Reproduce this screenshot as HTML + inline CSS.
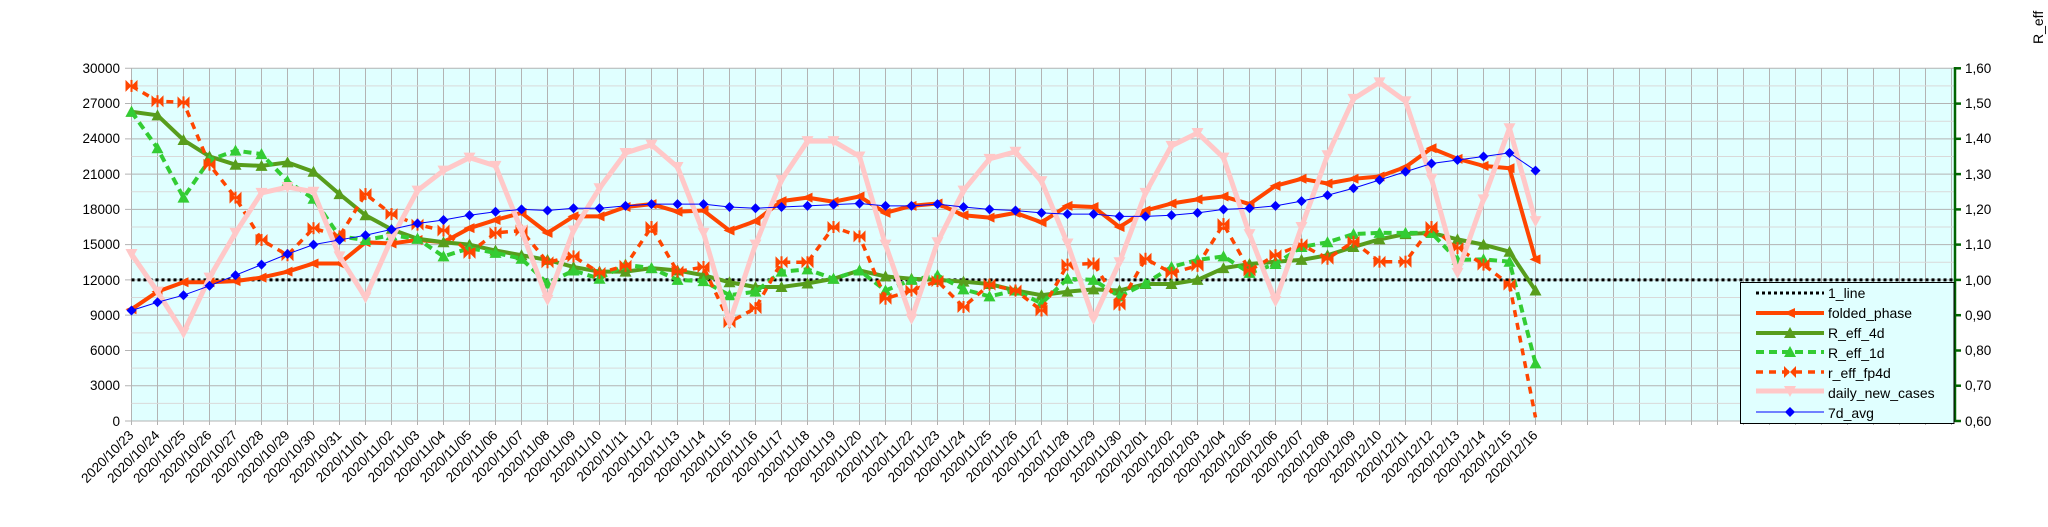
<!DOCTYPE html>
<html><head><meta charset="utf-8"><style>
html,body{margin:0;padding:0;background:#fff;}
svg{display:block;font-family:"Liberation Sans",sans-serif;}
</style></head><body>
<svg width="2048" height="527" viewBox="0 0 2048 527" xmlns="http://www.w3.org/2000/svg">
<defs>
<pattern id="vg" x="131" y="0" width="26" height="527" patternUnits="userSpaceOnUse"><rect x="0" y="0" width="1" height="527" fill="#b3b3b3"/></pattern>
<marker id="mf" markerUnits="userSpaceOnUse" markerWidth="0.4615" markerHeight="1.0207" viewBox="-6 -6 12 12" preserveAspectRatio="none" refX="0" refY="0" overflow="visible"><polygon points="-6,0 5,-5 5,5" fill="#ff4500"/></marker>
<marker id="m4" markerUnits="userSpaceOnUse" markerWidth="0.4615" markerHeight="1.0207" viewBox="-6 -6 12 12" preserveAspectRatio="none" refX="0" refY="0" overflow="visible"><polygon points="0,6 -6,-5 6,-5" fill="#579d1c"/></marker>
<marker id="m1" markerUnits="userSpaceOnUse" markerWidth="0.4615" markerHeight="1.0207" viewBox="-6 -6 12 12" preserveAspectRatio="none" refX="0" refY="0" overflow="visible"><polygon points="0,6 -6,-5 6,-5" fill="#33cc33"/></marker>
<marker id="mb" markerUnits="userSpaceOnUse" markerWidth="0.4615" markerHeight="1.0207" viewBox="-6 -6 12 12" preserveAspectRatio="none" refX="0" refY="0" overflow="visible"><polygon points="-6,-6 0,0 -6,6" fill="#ff4500"/><polygon points="6,-6 0,0 6,6" fill="#ff4500"/><rect x="-1" y="-6" width="2" height="12" fill="#ff4500"/></marker>
<marker id="md" markerUnits="userSpaceOnUse" markerWidth="0.4615" markerHeight="1.0207" viewBox="-6 -6 12 12" preserveAspectRatio="none" refX="0" refY="0" overflow="visible"><polygon points="0,-6 -6,5 6,5" fill="#ffc8c8"/></marker>
<marker id="ma" markerUnits="userSpaceOnUse" markerWidth="0.3846" markerHeight="0.8505" viewBox="-5 -5 10 10" preserveAspectRatio="none" refX="0" refY="0" overflow="visible"><polygon points="0,5 5,0 0,-5 -5,0" fill="#0000ff"/></marker>
</defs>

<rect x="131.5" y="68.3" width="1823" height="352.7" fill="#e0ffff"/>
<rect x="131" y="68" width="1823" height="357" fill="url(#vg)"/>

<g transform="matrix(26,0,0,-11.757,131.5,421)" fill="none">
<g stroke="#d9d9d9" stroke-width="1" vector-effect="non-scaling-stroke">
<line x1="0" x2="70.1" y1="1.5" y2="1.5" vector-effect="non-scaling-stroke"/>
<line x1="0" x2="70.1" y1="4.5" y2="4.5" vector-effect="non-scaling-stroke"/>
<line x1="0" x2="70.1" y1="7.5" y2="7.5" vector-effect="non-scaling-stroke"/>
<line x1="0" x2="70.1" y1="10.5" y2="10.5" vector-effect="non-scaling-stroke"/>
<line x1="0" x2="70.1" y1="13.5" y2="13.5" vector-effect="non-scaling-stroke"/>
<line x1="0" x2="70.1" y1="16.5" y2="16.5" vector-effect="non-scaling-stroke"/>
<line x1="0" x2="70.1" y1="19.5" y2="19.5" vector-effect="non-scaling-stroke"/>
<line x1="0" x2="70.1" y1="22.5" y2="22.5" vector-effect="non-scaling-stroke"/>
<line x1="0" x2="70.1" y1="25.5" y2="25.5" vector-effect="non-scaling-stroke"/>
<line x1="0" x2="70.1" y1="28.5" y2="28.5" vector-effect="non-scaling-stroke"/>
</g>
<g stroke="#b3b3b3" stroke-width="1">
<line x1="-0.25" x2="70.1" y1="0" y2="0" vector-effect="non-scaling-stroke"/>
<line x1="-0.25" x2="70.1" y1="3" y2="3" vector-effect="non-scaling-stroke"/>
<line x1="-0.25" x2="70.1" y1="6" y2="6" vector-effect="non-scaling-stroke"/>
<line x1="-0.25" x2="70.1" y1="9" y2="9" vector-effect="non-scaling-stroke"/>
<line x1="-0.25" x2="70.1" y1="12" y2="12" vector-effect="non-scaling-stroke"/>
<line x1="-0.25" x2="70.1" y1="15" y2="15" vector-effect="non-scaling-stroke"/>
<line x1="-0.25" x2="70.1" y1="18" y2="18" vector-effect="non-scaling-stroke"/>
<line x1="-0.25" x2="70.1" y1="21" y2="21" vector-effect="non-scaling-stroke"/>
<line x1="-0.25" x2="70.1" y1="24" y2="24" vector-effect="non-scaling-stroke"/>
<line x1="-0.25" x2="70.1" y1="27" y2="27" vector-effect="non-scaling-stroke"/>
<line x1="-0.25" x2="70.1" y1="30" y2="30" vector-effect="non-scaling-stroke"/>
</g>

<line x1="0" x2="70.1" y1="12" y2="12" stroke="#000" stroke-width="3" stroke-dasharray="3 3" vector-effect="non-scaling-stroke"/>

<polyline stroke="#ff4500" stroke-width="4" stroke-linejoin="round" vector-effect="non-scaling-stroke" marker-start="url(#mf)" marker-mid="url(#mf)" marker-end="url(#mf)" points="0,9.5 1,11.0 2,11.8 3,11.8 4,11.9 5,12.2 6,12.7 7,13.4 8,13.4 9,15.2 10,15.1 11,15.4 12,15.2 13,16.4 14,17.1 15,17.7 16,16.0 17,17.4 18,17.4 19,18.2 20,18.45 21,17.8 22,17.9 23,16.2 24,17.0 25,18.7 26,19.0 27,18.65 28,19.1 29,17.7 30,18.3 31,18.5 32,17.5 33,17.3 34,17.7 35,16.9 36,18.3 37,18.2 38,16.5 39,17.9 40,18.5 41,18.85 42,19.1 43,18.45 44,20.0 45,20.6 46,20.2 47,20.6 48,20.8 49,21.6 50,23.2 51,22.3 52,21.7 53,21.5 54,13.75"/>

<polyline stroke="#579d1c" stroke-width="4" stroke-linejoin="round" vector-effect="non-scaling-stroke" marker-start="url(#m4)" marker-mid="url(#m4)" marker-end="url(#m4)" points="0,26.3 1,26.0 2,23.9 3,22.5 4,21.8 5,21.7 6,22.0 7,21.2 8,19.3 9,17.5 10,16.3 11,15.5 12,15.2 13,15.0 14,14.5 15,14.1 16,13.7 17,13.1 18,12.7 19,12.7 20,13.0 21,12.8 22,12.4 23,11.8 24,11.4 25,11.4 26,11.7 27,12.1 28,12.8 29,12.3 30,12.1 31,12.0 32,11.85 33,11.65 34,11.1 35,10.7 36,11.0 37,11.2 38,11.1 39,11.65 40,11.65 41,12.0 42,13.0 43,13.35 44,13.55 45,13.7 46,14.1 47,14.8 48,15.45 49,15.9 50,16.0 51,15.45 52,15.0 53,14.4 54,11.1"/>

<polyline stroke="#33cc33" stroke-width="4" stroke-dasharray="8 5" vector-effect="non-scaling-stroke" marker-start="url(#m1)" marker-mid="url(#m1)" marker-end="url(#m1)" points="0,26.3 1,23.2 2,19.0 3,22.2 4,23.0 5,22.7 6,20.4 7,18.9 8,15.7 9,15.4 10,15.8 11,15.5 12,14.0 13,14.7 14,14.3 15,13.8 16,11.7 17,12.8 18,12.1 19,13.3 20,13.0 21,12.0 22,11.9 23,10.7 24,11.0 25,12.7 26,12.9 27,12.1 28,12.8 29,11.1 30,12.0 31,12.4 32,11.2 33,10.6 34,11.1 35,10.0 36,12.1 37,12.0 38,10.6 39,11.7 40,13.1 41,13.7 42,14.0 43,12.6 44,13.35 45,14.8 46,15.2 47,15.9 48,16.0 49,16.0 50,16.0 51,13.7 52,13.75 53,13.55 54,4.9"/>

<polyline stroke="#ff4500" stroke-width="3.5" stroke-dasharray="7 6" vector-effect="non-scaling-stroke" marker-start="url(#mb)" marker-mid="url(#mb)" marker-end="url(#mb)" points="0,28.5 1,27.2 2,27.1 3,21.8 4,19.0 5,15.4 6,14.1 7,16.4 8,15.7 9,19.3 10,17.6 11,16.7 12,16.2 13,14.3 14,16.0 15,16.2 16,13.5 17,14.0 18,12.6 19,13.2 20,16.5 21,12.7 22,13.1 23,8.4 24,9.6 25,13.5 26,13.5 27,16.5 28,15.7 29,10.4 30,11.1 31,11.9 32,9.7 33,11.6 34,11.1 35,9.4 36,13.3 37,13.4 38,9.9 39,13.8 40,12.6 41,13.2 42,16.75 43,12.8 44,14.1 45,15.0 46,13.8 47,15.25 48,13.55 49,13.55 50,16.5 51,14.7 52,13.3 53,11.6"/>
<polyline stroke="#ff4500" stroke-width="3.5" stroke-dasharray="7 6" vector-effect="non-scaling-stroke" points="53,11.6 54,0.3"/>

<polyline stroke="#ffc8c8" stroke-width="5" stroke-linejoin="round" vector-effect="non-scaling-stroke" marker-start="url(#md)" marker-mid="url(#md)" marker-end="url(#md)" points="0,14.2 1,11.0 2,7.5 3,12.2 4,16.0 5,19.4 6,19.9 7,19.5 8,14.0 9,10.5 10,15.5 11,19.6 12,21.3 13,22.4 14,21.7 15,16.2 16,10.3 17,16.2 18,19.8 19,22.8 20,23.5 21,21.6 22,16.0 23,8.4 24,15.0 25,20.5 26,23.8 27,23.8 28,22.5 29,15.0 30,8.7 31,15.2 32,19.6 33,22.3 34,22.9 35,20.4 36,15.1 37,8.7 38,13.5 39,19.4 40,23.4 41,24.5 42,22.4 43,15.9 44,10.2 45,16.5 46,22.6 47,27.4 48,28.8 49,27.2 50,20.6 51,12.6 52,18.85 53,24.9 54,17.0"/>

<polyline stroke="#0000ff" stroke-width="1" vector-effect="non-scaling-stroke" marker-start="url(#ma)" marker-mid="url(#ma)" marker-end="url(#ma)" points="0,9.4 1,10.1 2,10.7 3,11.5 4,12.4 5,13.3 6,14.2 7,15.0 8,15.4 9,15.8 10,16.3 11,16.8 12,17.1 13,17.5 14,17.8 15,18.0 16,17.9 17,18.1 18,18.1 19,18.3 20,18.45 21,18.45 22,18.45 23,18.2 24,18.1 25,18.2 26,18.3 27,18.4 28,18.5 29,18.3 30,18.3 31,18.45 32,18.2 33,18.0 34,17.9 35,17.7 36,17.6 37,17.6 38,17.4 39,17.4 40,17.5 41,17.7 42,18.0 43,18.1 44,18.3 45,18.7 46,19.2 47,19.8 48,20.5 49,21.2 50,21.9 51,22.2 52,22.5 53,22.8 54,21.3"/>
</g>

<!-- right axis -->
<line x1="1955" y1="67" x2="1955" y2="422" stroke="#006400" stroke-width="2.5"/>
<g stroke="#006400" stroke-width="2.5">
<line x1="1955" x2="1961" y1="68.3" y2="68.3"/><line x1="1955" x2="1961" y1="103.6" y2="103.6"/><line x1="1955" x2="1961" y1="138.8" y2="138.8"/><line x1="1955" x2="1961" y1="174.1" y2="174.1"/><line x1="1955" x2="1961" y1="209.4" y2="209.4"/><line x1="1955" x2="1961" y1="244.6" y2="244.6"/><line x1="1955" x2="1961" y1="279.9" y2="279.9"/><line x1="1955" x2="1961" y1="315.2" y2="315.2"/><line x1="1955" x2="1961" y1="350.5" y2="350.5"/><line x1="1955" x2="1961" y1="385.7" y2="385.7"/><line x1="1955" x2="1961" y1="421" y2="421"/>
</g>
<g font-size="13.5" fill="#000">
<text x="1965" y="73">1,60</text><text x="1965" y="108">1,50</text><text x="1965" y="143">1,40</text><text x="1965" y="179">1,30</text><text x="1965" y="214">1,20</text><text x="1965" y="249">1,10</text><text x="1965" y="285">1,00</text><text x="1965" y="320">0,90</text><text x="1965" y="355">0,80</text><text x="1965" y="390">0,70</text><text x="1965" y="426">0,60</text>
</g>
<g font-size="13.5" fill="#000" text-anchor="end">
<text x="120" y="73">30000</text><text x="120" y="108">27000</text><text x="120" y="143">24000</text><text x="120" y="179">21000</text><text x="120" y="214">18000</text><text x="120" y="249">15000</text><text x="120" y="285">12000</text><text x="120" y="320">9000</text><text x="120" y="355">6000</text><text x="120" y="390">3000</text><text x="120" y="426">0</text>
</g>
<text transform="translate(2043,44) rotate(-90)" font-size="14" fill="#000">R_eff</text>

<!-- x labels -->
<g font-size="13.5" fill="#000" text-anchor="end">
<text transform="translate(134.5,436) rotate(-45)">2020/10/23</text>
<text transform="translate(160.5,436) rotate(-45)">2020/10/24</text>
<text transform="translate(186.5,436) rotate(-45)">2020/10/25</text>
<text transform="translate(212.5,436) rotate(-45)">2020/10/26</text>
<text transform="translate(238.5,436) rotate(-45)">2020/10/27</text>
<text transform="translate(264.5,436) rotate(-45)">2020/10/28</text>
<text transform="translate(290.5,436) rotate(-45)">2020/10/29</text>
<text transform="translate(316.5,436) rotate(-45)">2020/10/30</text>
<text transform="translate(342.5,436) rotate(-45)">2020/10/31</text>
<text transform="translate(368.5,436) rotate(-45)">2020/11/01</text>
<text transform="translate(394.5,436) rotate(-45)">2020/11/02</text>
<text transform="translate(420.5,436) rotate(-45)">2020/11/03</text>
<text transform="translate(446.5,436) rotate(-45)">2020/11/04</text>
<text transform="translate(472.5,436) rotate(-45)">2020/11/05</text>
<text transform="translate(498.5,436) rotate(-45)">2020/11/06</text>
<text transform="translate(524.5,436) rotate(-45)">2020/11/07</text>
<text transform="translate(550.5,436) rotate(-45)">2020/11/08</text>
<text transform="translate(576.5,436) rotate(-45)">2020/11/09</text>
<text transform="translate(602.5,436) rotate(-45)">2020/11/10</text>
<text transform="translate(628.5,436) rotate(-45)">2020/11/11</text>
<text transform="translate(654.5,436) rotate(-45)">2020/11/12</text>
<text transform="translate(680.5,436) rotate(-45)">2020/11/13</text>
<text transform="translate(706.5,436) rotate(-45)">2020/11/14</text>
<text transform="translate(732.5,436) rotate(-45)">2020/11/15</text>
<text transform="translate(758.5,436) rotate(-45)">2020/11/16</text>
<text transform="translate(784.5,436) rotate(-45)">2020/11/17</text>
<text transform="translate(810.5,436) rotate(-45)">2020/11/18</text>
<text transform="translate(836.5,436) rotate(-45)">2020/11/19</text>
<text transform="translate(862.5,436) rotate(-45)">2020/11/20</text>
<text transform="translate(888.5,436) rotate(-45)">2020/11/21</text>
<text transform="translate(914.5,436) rotate(-45)">2020/11/22</text>
<text transform="translate(940.5,436) rotate(-45)">2020/11/23</text>
<text transform="translate(966.5,436) rotate(-45)">2020/11/24</text>
<text transform="translate(992.5,436) rotate(-45)">2020/11/25</text>
<text transform="translate(1018.5,436) rotate(-45)">2020/11/26</text>
<text transform="translate(1044.5,436) rotate(-45)">2020/11/27</text>
<text transform="translate(1070.5,436) rotate(-45)">2020/11/28</text>
<text transform="translate(1096.5,436) rotate(-45)">2020/11/29</text>
<text transform="translate(1122.5,436) rotate(-45)">2020/11/30</text>
<text transform="translate(1148.5,436) rotate(-45)">2020/12/01</text>
<text transform="translate(1174.5,436) rotate(-45)">2020/12/02</text>
<text transform="translate(1200.5,436) rotate(-45)">2020/12/03</text>
<text transform="translate(1226.5,436) rotate(-45)">2020/12/04</text>
<text transform="translate(1252.5,436) rotate(-45)">2020/12/05</text>
<text transform="translate(1278.5,436) rotate(-45)">2020/12/06</text>
<text transform="translate(1304.5,436) rotate(-45)">2020/12/07</text>
<text transform="translate(1330.5,436) rotate(-45)">2020/12/08</text>
<text transform="translate(1356.5,436) rotate(-45)">2020/12/09</text>
<text transform="translate(1382.5,436) rotate(-45)">2020/12/10</text>
<text transform="translate(1408.5,436) rotate(-45)">2020/12/11</text>
<text transform="translate(1434.5,436) rotate(-45)">2020/12/12</text>
<text transform="translate(1460.5,436) rotate(-45)">2020/12/13</text>
<text transform="translate(1486.5,436) rotate(-45)">2020/12/14</text>
<text transform="translate(1512.5,436) rotate(-45)">2020/12/15</text>
<text transform="translate(1538.5,436) rotate(-45)">2020/12/16</text>
</g>

<!-- legend -->
<rect x="1740.5" y="282.5" width="213.5" height="141" fill="#e0ffff" stroke="#000" stroke-width="1"/>
<line x1="1756" x2="1824" y1="293" y2="293" stroke="#000" stroke-width="3" stroke-dasharray="3 3"/>
<line x1="1756" x2="1824" y1="313" y2="313" stroke="#ff4500" stroke-width="4"/>
<polygon points="1784,313 1795,308 1795,318" fill="#ff4500"/>
<line x1="1756" x2="1824" y1="333" y2="333" stroke="#579d1c" stroke-width="4"/>
<polygon points="1790,327 1784,338 1796,338" fill="#579d1c"/>
<line x1="1756" x2="1824" y1="352" y2="352" stroke="#33cc33" stroke-width="4" stroke-dasharray="8 5"/>
<polygon points="1790,346 1784,357 1796,357" fill="#33cc33"/>
<line x1="1756" x2="1824" y1="372" y2="372" stroke="#ff4500" stroke-width="3.5" stroke-dasharray="7 6"/>
<polygon points="1784,366 1790,372 1784,378" fill="#ff4500"/><polygon points="1796,366 1790,372 1796,378" fill="#ff4500"/>
<line x1="1756" x2="1824" y1="391" y2="391" stroke="#ffc8c8" stroke-width="5"/>
<polygon points="1784,386 1796,386 1790,397" fill="#ffc8c8"/>
<line x1="1756" x2="1824" y1="412" y2="412" stroke="#0000ff" stroke-width="1"/>
<polygon points="1790,407 1795,412 1790,417 1785,412" fill="#0000ff"/>
<g font-size="14" fill="#000">
<text x="1828" y="298">1_line</text>
<text x="1828" y="318">folded_phase</text>
<text x="1828" y="338">R_eff_4d</text>
<text x="1828" y="358">R_eff_1d</text>
<text x="1828" y="378">r_eff_fp4d</text>
<text x="1828" y="398">daily_new_cases</text>
<text x="1828" y="418">7d_avg</text>
</g>
</svg>
</body></html>
